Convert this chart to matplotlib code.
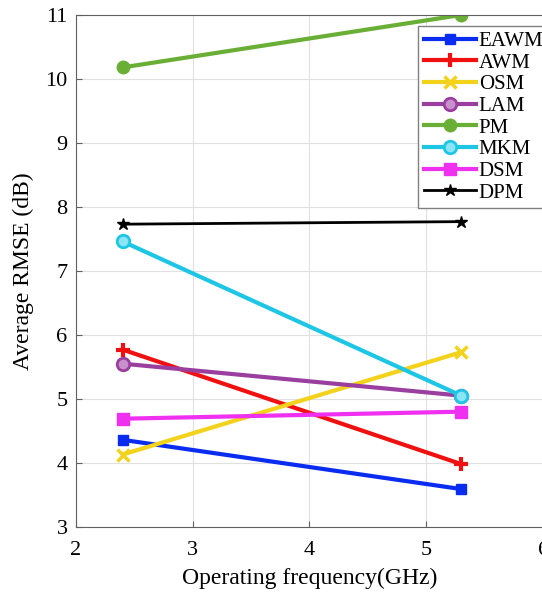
import matplotlib.pyplot as plt

# Operating frequencies (GHz)
freq = [2.4, 5.3]

# Average RMSE (dB) per method
eawm = [4.36, 3.59]
awm = [5.77, 3.98]
osm = [4.13, 5.73]
lam = [5.55, 5.05]
pm = [10.18, 11.0]
mkm = [7.46, 5.05]
dsm = [4.69, 4.80]
dpm = [7.73, 7.77]

plt.rcParams['font.family'] = ['Liberation Serif', 'DejaVu Serif']

fig = plt.figure(figsize=(5.42, 5.98), dpi=100)
ax = fig.add_axes([0.140, 0.119, 0.862, 0.856])

lw = 3
ax.plot(freq, eawm, color='#0a2bf0', marker='s', ms=7, lw=lw, label='EAWM')
ax.plot(freq, awm, color='#f01010', marker='+', ms=10, mew=3, lw=lw, label='AWM')
ax.plot(freq, osm, color='#f2d21a', marker='x', ms=8, mew=2.5, lw=lw, label='OSM')
ax.plot(freq, lam, color='#9a3ea0', marker='o', ms=9, mfc='#c890cc', mew=2, lw=lw, label='LAM')
ax.plot(freq, pm, color='#6aaf35', marker='o', ms=9, lw=lw, label='PM')
ax.plot(freq, mkm, color='#1ec6e6', marker='o', ms=9, mfc='#8ae4f4', mew=2, lw=lw, label='MKM')
ax.plot(freq, dsm, color='#f030f0', marker='s', ms=8, lw=lw, label='DSM')
ax.plot(freq, dpm, color='black', marker='*', ms=9, lw=2, label='DPM')

ax.set_xlim(2, 6)
ax.set_ylim(3, 11)
ax.set_xticks([2, 3, 4, 5, 6])
ax.set_yticks(range(3, 12))
ax.grid(True, color='#e0e0e0', lw=0.8)
ax.set_axisbelow(True)
for s in ax.spines.values():
    s.set_color('#606060')
ax.tick_params(labelsize=16, direction='in', length=4, color='#606060', pad=6)
ax.tick_params(axis='x', pad=10)

ax.set_xlabel('Operating frequency(GHz)', fontsize=17, labelpad=6)
ax.set_ylabel('Average RMSE (dB)', fontsize=17, labelpad=8)

leg = ax.legend(loc='upper right', bbox_to_anchor=(1.012, 0.978), fontsize=15,
                handlelength=2.5, labelspacing=0.1, handletextpad=0.15,
                borderpad=0.25, borderaxespad=0, fancybox=False, framealpha=1)
leg.get_frame().set_edgecolor('#808080')

fig.savefig('out.png', dpi=100)
